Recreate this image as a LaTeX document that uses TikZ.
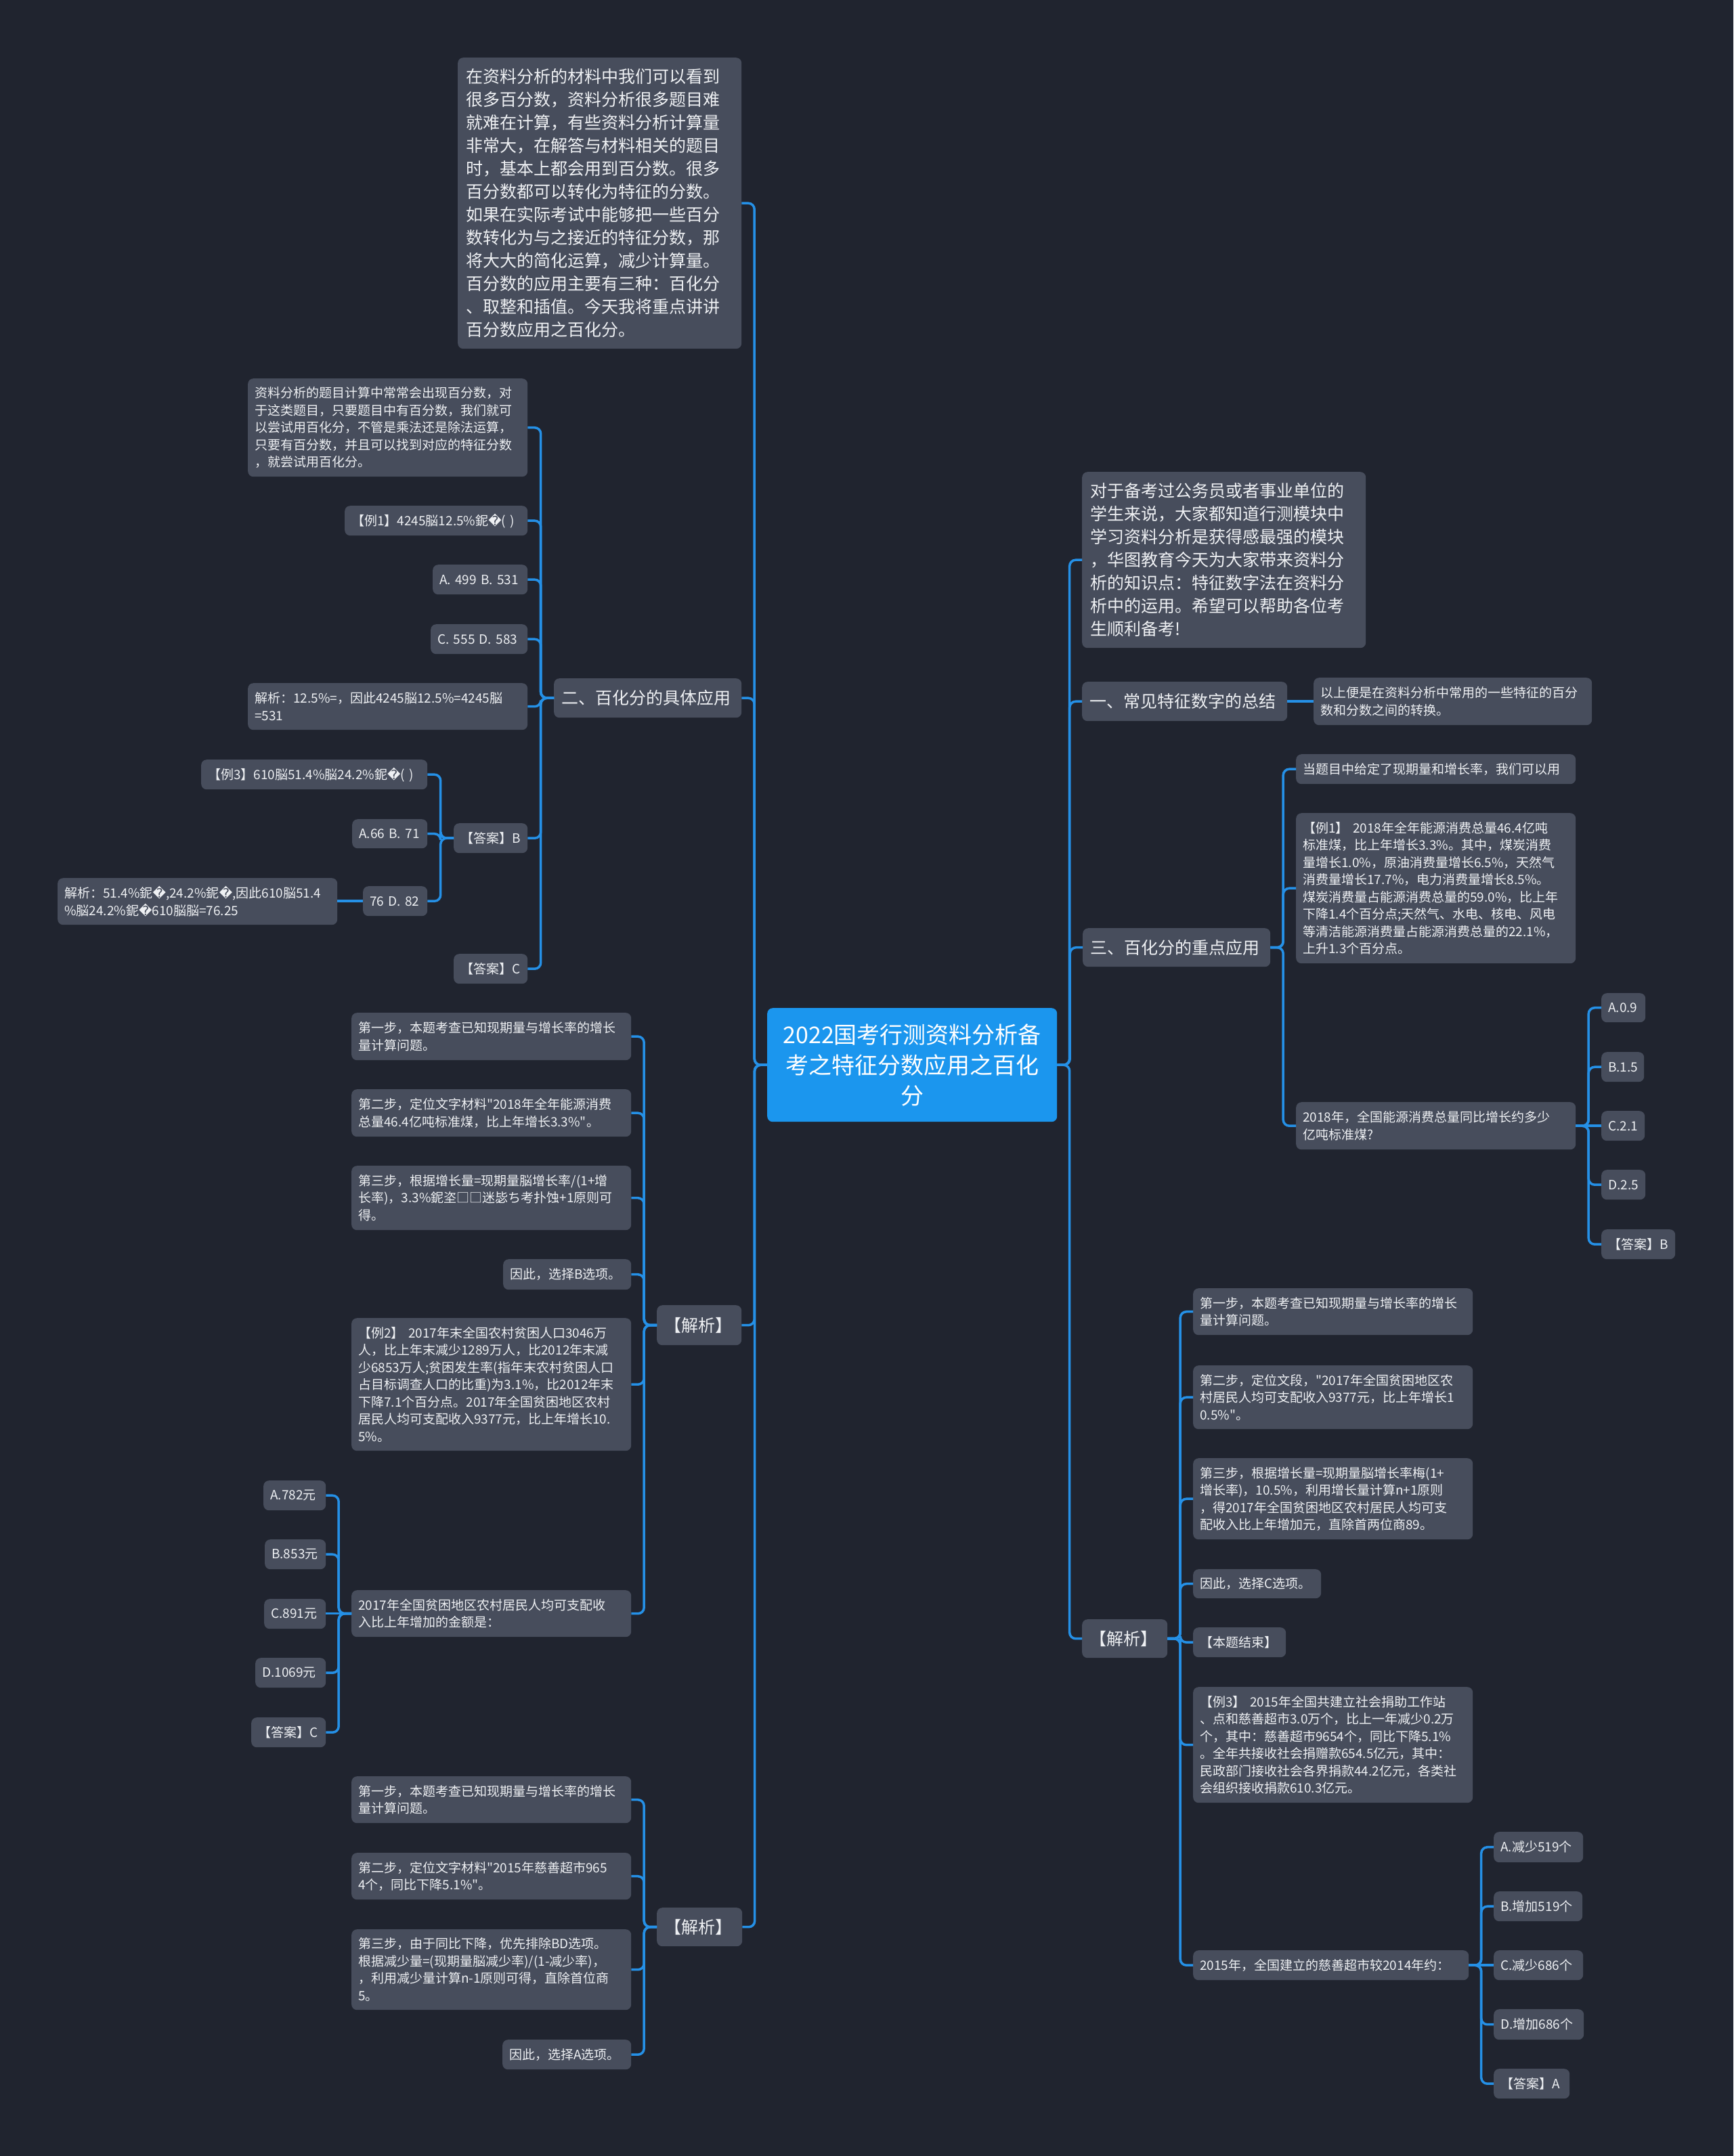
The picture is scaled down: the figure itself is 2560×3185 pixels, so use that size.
\documentclass[tikz,border=0pt]{standalone}
\usepackage{fontspec}
\setmainfont{Noto Sans CJK SC}[Ligatures=TeXOff]
\newfontfamily\djv{DejaVu Sans}
\usetikzlibrary{calc}
\definecolor{bg}{HTML}{20242F}
\definecolor{boxc}{HTML}{474D5C}
\definecolor{lnc}{HTML}{2590E6}
\definecolor{rootc}{HTML}{1B96EE}
\definecolor{txt}{HTML}{EEF0F3}
\newcommand\rp{{\djv\char"FFFD}}
\newcommand\qq{\char34\relax}
\tikzset{
 box/.style={fill=boxc, rounded corners=8pt, text=txt, align=left},
 mainbox/.style={box, font=\fontsize{25}{34}\selectfont},
 subbox/.style={box, font=\fontsize{19}{25.5}\selectfont},
 rootbox/.style={fill=rootc, rounded corners=8pt, text=white, align=center, font=\fontsize{34}{45}\selectfont},
 conn/.style={draw=lnc, line width=3.5pt, rounded corners=9pt},
}
% style, pad, name, x1, y1, x2, y2, text
\newcommand\nd[8]{\node[#1, inner xsep=#2pt, inner ysep=0pt, anchor=north west,
  minimum width={(#6)-(#4)}, minimum height={(#7)-(#5)}, text width={(#6)-(#4)-2*#2}] (#3) at (#4,#5) {#8};}
\newcommand\lkL[2]{\draw[conn] (#1.west) -- ($(#1.west)!.5!(#1.west -| #2.east)$) |- (#2.east);}
\newcommand\lkR[2]{\draw[conn] (#1.east) -- ($(#1.east)!.5!(#1.east -| #2.west)$) |- (#2.west);}
\newcommand\lkSL[2]{\draw[conn] (#1.west) -- (#1.west -| #2.east);}
\newcommand\lkSR[2]{\draw[conn] (#1.east) -- (#1.east -| #2.west);}
\begin{document}
\begin{tikzpicture}[x=1pt,y=-1pt]
\useasboundingbox (0,0) rectangle (2560,3185);
\fill[bg] (0,0) rectangle (2560,3185);

% root
\nd{rootbox}{20}{root}{1133}{1489}{1561}{1657}{2022国考行测资料分析备\\考之特征分数应用之百化\\分}

% ---------------- left side ----------------
\nd{mainbox}{12}{l0}{676}{85}{1095}{515}{在资料分析的材料中我们可以看到\\很多百分数，资料分析很多题目难\\就难在计算，有些资料分析计算量\\非常大，在解答与材料相关的题目\\时，基本上都会用到百分数。很多\\百分数都可以转化为特征的分数。\\如果在实际考试中能够把一些百分\\数转化为与之接近的特征分数，那\\将大大的简化运算，减少计算量。\\百分数的应用主要有三种：百化分\\、取整和插值。今天我将重点讲讲\\百分数应用之百化分。}

\nd{mainbox}{11}{la}{818}{1002}{1095}{1060}{二、百化分的具体应用}
\nd{subbox}{10}{la1}{366}{559}{779}{704}{资料分析的题目计算中常常会出现百分数，对\\于这类题目，只要题目中有百分数，我们就可\\以尝试用百化分，不管是乘法还是除法运算，\\只要有百分数，并且可以找到对应的特征分数\\，就尝试用百化分。}
\nd{subbox}{10}{la2}{509}{747}{779}{791}{【例1】4245脳12.5\%鈮\rp( )}
\nd{subbox}{10}{la3}{639}{834}{779}{878}{A. 499 B. 531}
\nd{subbox}{10}{la4}{636}{922}{779}{966}{C. 555 D. 583}
\nd{subbox}{10}{la5}{366}{1009}{779}{1078}{解析：12.5\%=，因此4245脳12.5\%=4245脳\\=531}
\nd{subbox}{10}{la6}{670}{1216}{779}{1260}{【答案】B}
\nd{subbox}{10}{la6a}{297}{1122}{631}{1166}{【例3】610脳51.4\%脳24.2\%鈮\rp( )}
\nd{subbox}{10}{la6b}{520}{1210}{631}{1253}{A.66 B. 71}
\nd{subbox}{10}{la6c}{536}{1309}{631}{1353}{76 D. 82}
\nd{subbox}{10}{la6d}{85}{1297}{498}{1366}{解析：51.4\%鈮\rp,24.2\%鈮\rp,因此610脳51.4\\\%脳24.2\%鈮\rp610脳脳=76.25}
\nd{subbox}{10}{la7}{670}{1409}{779}{1453}{【答案】C}

\nd{mainbox}{11}{lb}{970}{1928}{1095}{1987}{【解析】}
\nd{subbox}{10}{lb1}{519}{1496}{932}{1566}{第一步，本题考查已知现期量与增长率的增长\\量计算问题。}
\nd{subbox}{10}{lb2}{519}{1609}{932}{1679}{第二步，定位文字材料\qq 2018年全年能源消费\\总量46.4亿吨标准煤，比上年增长3.3\%\qq。}
\nd{subbox}{10}{lb3}{519}{1722}{932}{1817}{第三步，根据增长量=现期量脳增长率/(1+增\\长率)，3.3\%鈮垐□□迷毖ち考扑蚀+1原则可\\得。}
\nd{subbox}{10}{lb4}{743}{1860}{932}{1905}{因此，选择B选项。}
\nd{subbox}{10}{lb5}{519}{1947}{932}{2143}{【例2】 2017年末全国农村贫困人口3046万\\人，比上年末减少1289万人，比2012年末减\\少6853万人;贫困发生率(指年末农村贫困人口\\占目标调查人口的比重)为3.1\%，比2012年末\\下降7.1个百分点。2017年全国贫困地区农村\\居民人均可支配收入9377元，比上年增长10.\\5\%。}
\nd{subbox}{10}{lb6}{519}{2349}{932}{2418}{2017年全国贫困地区农村居民人均可支配收\\入比上年增加的金额是：}
\nd{subbox}{10}{lb6a}{389}{2187}{481}{2231}{A.782元}
\nd{subbox}{10}{lb6b}{391}{2274}{481}{2318}{B.853元}
\nd{subbox}{10}{lb6c}{390}{2362}{481}{2406}{C.891元}
\nd{subbox}{10}{lb6d}{377}{2449}{481}{2493}{D.1069元}
\nd{subbox}{10}{lb6e}{371}{2537}{481}{2581}{【答案】C}

\nd{mainbox}{11}{lc}{970}{2818}{1096}{2875}{【解析】}
\nd{subbox}{10}{lc1}{519}{2624}{932}{2693}{第一步，本题考查已知现期量与增长率的增长\\量计算问题。}
\nd{subbox}{10}{lc2}{519}{2737}{932}{2806}{第二步，定位文字材料\qq 2015年慈善超市965\\4个，同比下降5.1\%\qq。}
\nd{subbox}{10}{lc3}{519}{2850}{932}{2969}{第三步，由于同比下降，优先排除BD选项。\\根据减少量=(现期量脳减少率)/(1-减少率)，\\，利用减少量计算n-1原则可得，直除首位商\\5。}
\nd{subbox}{10}{lc4}{742}{3013}{932}{3057}{因此，选择A选项。}

% ---------------- right side ----------------
\nd{mainbox}{12}{r0}{1598}{697}{2017}{957}{对于备考过公务员或者事业单位的\\学生来说，大家都知道行测模块中\\学习资料分析是获得感最强的模块\\，华图教育今天为大家带来资料分\\析的知识点：特征数字法在资料分\\析中的运用。希望可以帮助各位考\\生顺利备考!}
\nd{mainbox}{11}{r1}{1598}{1007}{1901}{1065}{一、常见特征数字的总结}
\nd{subbox}{10}{r1a}{1940}{1001}{2351}{1071}{以上便是在资料分析中常用的一些特征的百分\\数和分数之间的转换。}

\nd{mainbox}{11}{r2}{1599}{1371}{1876}{1428}{三、百化分的重点应用}
\nd{subbox}{10}{r2a}{1914}{1114}{2327}{1158}{当题目中给定了现期量和增长率，我们可以用}
\nd{subbox}{10}{r2b}{1914}{1201}{2327}{1423}{【例1】 2018年全年能源消费总量46.4亿吨\\标准煤，比上年增长3.3\%。其中，煤炭消费\\量增长1.0\%，原油消费量增长6.5\%，天然气\\消费量增长17.7\%，电力消费量增长8.5\%。\\煤炭消费量占能源消费总量的59.0\%，比上年\\下降1.4个百分点;天然气、水电、核电、风电\\等清洁能源消费量占能源消费总量的22.1\%，\\上升1.3个百分点。}
\nd{subbox}{10}{r2c}{1914}{1628}{2327}{1698}{2018年，全国能源消费总量同比增长约多少\\亿吨标准煤?}
\nd{subbox}{10}{r2c1}{2365}{1467}{2430}{1510}{A.0.9}
\nd{subbox}{10}{r2c2}{2365}{1554}{2428}{1598}{B.1.5}
\nd{subbox}{10}{r2c3}{2365}{1641}{2429}{1685}{C.2.1}
\nd{subbox}{10}{r2c4}{2365}{1728}{2430}{1772}{D.2.5}
\nd{subbox}{10}{r2c5}{2365}{1816}{2474}{1860}{【答案】B}

\nd{mainbox}{11}{r3}{1598}{2392}{1724}{2449}{【解析】}
\nd{subbox}{10}{r3a}{1762}{1903}{2175}{1972}{第一步，本题考查已知现期量与增长率的增长\\量计算问题。}
\nd{subbox}{10}{r3b}{1762}{2017}{2175}{2111}{第二步，定位文段，\qq 2017年全国贫困地区农\\村居民人均可支配收入9377元，比上年增长1\\0.5\%\qq。}
\nd{subbox}{10}{r3c}{1762}{2154}{2175}{2274}{第三步，根据增长量=现期量脳增长率梅(1+\\增长率)，10.5\%，利用增长量计算n+1原则\\，得2017年全国贫困地区农村居民人均可支\\配收入比上年增加元，直除首两位商89。}
\nd{subbox}{10}{r3d}{1762}{2318}{1951}{2361}{因此，选择C选项。}
\nd{subbox}{10}{r3e}{1762}{2404}{1899}{2448}{【本题结束】}
\nd{subbox}{10}{r3f}{1762}{2492}{2175}{2663}{【例3】 2015年全国共建立社会捐助工作站\\、点和慈善超市3.0万个，比上一年减少0.2万\\个，其中：慈善超市9654个，同比下降5.1\%\\。全年共接收社会捐赠款654.5亿元，其中：\\民政部门接收社会各界捐款44.2亿元，各类社\\会组织接收捐款610.3亿元。}
\nd{subbox}{10}{r3g}{1762}{2881}{2169}{2925}{2015年，全国建立的慈善超市较2014年约：}
\nd{subbox}{10}{r3g1}{2206}{2706}{2338}{2751}{A.减少519个}
\nd{subbox}{10}{r3g2}{2206}{2794}{2337}{2838}{B.增加519个}
\nd{subbox}{10}{r3g3}{2206}{2881}{2338}{2925}{C.减少686个}
\nd{subbox}{10}{r3g4}{2206}{2968}{2339}{3013}{D.增加686个}
\nd{subbox}{10}{r3g5}{2206}{3056}{2318}{3100}{【答案】A}

% ---------------- connectors ----------------
\lkL{root}{l0}\lkL{root}{la}\lkL{root}{lb}\lkL{root}{lc}
\lkL{la}{la1}\lkL{la}{la2}\lkL{la}{la3}\lkL{la}{la4}\lkL{la}{la5}\lkL{la}{la6}\lkL{la}{la7}
\lkL{la6}{la6a}\lkL{la6}{la6b}\lkL{la6}{la6c}
\lkSL{la6c}{la6d}
\lkL{lb}{lb1}\lkL{lb}{lb2}\lkL{lb}{lb3}\lkL{lb}{lb4}\lkL{lb}{lb5}\lkL{lb}{lb6}
\lkL{lb6}{lb6a}\lkL{lb6}{lb6b}\lkSL{lb6}{lb6c}\lkL{lb6}{lb6d}\lkL{lb6}{lb6e}
\lkL{lc}{lc1}\lkL{lc}{lc2}\lkL{lc}{lc3}\lkL{lc}{lc4}
\lkR{root}{r0}\lkR{root}{r1}\lkR{root}{r2}\lkR{root}{r3}
\lkSR{r1}{r1a}
\lkR{r2}{r2a}\lkR{r2}{r2b}\lkR{r2}{r2c}
\lkR{r2c}{r2c1}\lkR{r2c}{r2c2}\lkSR{r2c}{r2c3}\lkR{r2c}{r2c4}\lkR{r2c}{r2c5}
\lkR{r3}{r3a}\lkR{r3}{r3b}\lkR{r3}{r3c}\lkR{r3}{r3d}\lkR{r3}{r3e}\lkR{r3}{r3f}\lkR{r3}{r3g}
\lkR{r3g}{r3g1}\lkR{r3g}{r3g2}\lkSR{r3g}{r3g3}\lkR{r3g}{r3g4}\lkR{r3g}{r3g5}
\end{tikzpicture}
\end{document}
